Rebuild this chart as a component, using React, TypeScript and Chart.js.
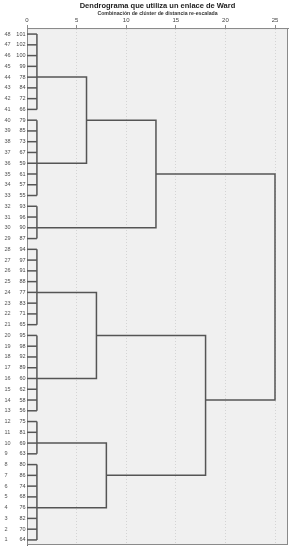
import React, { useEffect, useRef } from "react";
import { Chart, registerables } from "chart.js";

Chart.register(...registerables);

// Case labels for rows 1..48 (row 1 at bottom)
const caseLabels = [
  "64", "70", "82", "76", "68", "74", "86", "80",
  "63", "69", "81", "75",
  "56", "58", "62", "60", "89", "92", "98", "95",
  "65", "71", "83", "77", "88", "91", "97", "94",
  "87", "90", "96", "93",
  "55", "57", "61", "59", "67", "73", "85", "79",
  "66", "72", "84", "78", "99", "100", "102", "101",
];

const xTickValues = [0, 5, 10, 15, 20, 25];

// Leaf groups (joined at a small re-scaled distance)
const groupNames = ["A", "B", "C", "D", "E", "F", "G"];
const groupFromRow = [41, 33, 29, 21, 13, 9, 1];
const groupToRow = [48, 40, 32, 28, 20, 12, 8];
const groupExitRow = [44, 36, 30, 24, 16, 10, 4];
const groupJoinDistance = [1, 1, 1, 1, 1, 1, 1];

// Merges between clusters
const mergeNames = ["AB", "ABC", "DE", "FG", "DEFG", "ALL"];
const mergeLeft = ["A", "AB", "D", "F", "DE", "ABC"];
const mergeRight = ["B", "C", "E", "G", "FG", "DEFG"];
const mergeDistance = [6, 13, 7, 8, 18, 25];
const mergeExitRow = [40, 35, 20, 7, 14, 0];

const LINE = "#555555";
const FONT = "'Liberation Sans', Arial, sans-serif";

export default function App() {
  const ref = useRef<HTMLCanvasElement>(null);

  useEffect(() => {
    document.body.style.margin = "0";
    const nodes: Record<string, { x: number; y: number }> = {};
    const datasets: any[] = [];
    const seg = (pts: { x: number; y: number }[]) => ({
      data: pts,
      showLine: true,
      borderColor: LINE,
      borderWidth: 1.5,
      pointRadius: 0,
      pointHoverRadius: 0,
      fill: false,
      tension: 0,
    });

    groupNames.forEach((name, i) => {
      const d = groupJoinDistance[i];
      for (let r = groupFromRow[i]; r <= groupToRow[i]; r++) {
        datasets.push(seg([{ x: 0, y: r }, { x: d, y: r }]));
      }
      datasets.push(seg([{ x: d, y: groupFromRow[i] }, { x: d, y: groupToRow[i] }]));
      nodes[name] = { x: d, y: groupExitRow[i] };
    });

    mergeNames.forEach((name, i) => {
      const a = nodes[mergeLeft[i]];
      const b = nodes[mergeRight[i]];
      const h = mergeDistance[i];
      datasets.push(
        seg([
          { x: a.x, y: a.y },
          { x: h, y: a.y },
          { x: h, y: b.y },
          { x: b.x, y: b.y },
        ])
      );
      nodes[name] = { x: h, y: mergeExitRow[i] };
    });

    const bgPlugin = {
      id: "plotBg",
      beforeDraw(chart: any) {
        const { ctx, chartArea: a } = chart;
        ctx.save();
        ctx.fillStyle = "#f0f0f0";
        ctx.fillRect(a.left, a.top, a.right - a.left, a.bottom - a.top);
        ctx.restore();
      },
      beforeDatasetsDraw(chart: any) {
        const { ctx, chartArea: a } = chart;
        ctx.save();
        ctx.strokeStyle = "#8a8a8a";
        ctx.lineWidth = 1;
        ctx.strokeRect(a.left + 0.5, a.top + 0.5, a.right - a.left - 1, a.bottom - a.top - 1);
        ctx.restore();
      },
      afterDraw(chart: any) {
        // row position numbers, placed with the y scale
        const ys = chart.scales.y;
        const ctx = chart.ctx;
        ctx.save();
        ctx.fillStyle = "#555";
        ctx.font = `5.5px ${FONT}`;
        ctx.textAlign = "left";
        ctx.textBaseline = "middle";
        caseLabels.forEach((_, i) => {
          ctx.fillText(String(i + 1), 4.5, ys.getPixelForValue(i + 1));
        });
        ctx.restore();
      },
    };

    const rowTicks = caseLabels.map((_, i) => ({ value: i + 1 }));

    const chart = new Chart(ref.current!, {
      type: "scatter",
      data: { datasets },
      plugins: [bgPlugin],
      options: {
        animation: false,
        responsive: false,
        events: [],
        layout: { padding: { left: 13, right: 5, top: 0, bottom: 5 } },
        plugins: {
          legend: { display: false },
          tooltip: { enabled: false },
          title: {
            display: true,
            fullSize: false,
            text: "Dendrograma que utiliza un enlace de Ward",
            color: "#222",
            font: { family: FONT, size: 7.5, weight: "bold" },
            padding: { top: 1, bottom: 0 },
          },
          subtitle: {
            display: true,
            fullSize: false,
            text: "Combinación de clúster de distancia re-escalada",
            color: "#333",
            font: { family: FONT, size: 5.2, weight: "bold" },
            padding: { top: 0, bottom: 0 },
          },
        },
        scales: {
          x: {
            type: "linear",
            position: "top",
            min: 0,
            max: 26.31,
            afterBuildTicks(scale: any) {
              scale.ticks = xTickValues.map((v) => ({ value: v }));
            },
            afterFit(scale: any) {
              scale.height = 11.8;
            },
            ticks: {
              color: "#444",
              font: { family: FONT, size: 6 },
              padding: 1,
              maxRotation: 0,
              autoSkip: false,
            },
            grid: {
              color: "#d4d4d4",
              tickColor: "#8a8a8a",
              tickLength: 3,
              lineWidth: 1,
            },
            border: { color: "#8a8a8a", dash: [1, 2], display: true },
          },
          y: {
            type: "linear",
            position: "left",
            min: 0.53,
            max: 48.56,
            afterBuildTicks(scale: any) {
              scale.ticks = rowTicks.map((t) => ({ ...t }));
            },
            afterFit(scale: any) {
              scale.width = 14;
            },
            ticks: {
              color: "#444",
              font: { family: FONT, size: 5.5 },
              padding: 1.5,
              autoSkip: false,
              callback: (v: any) => caseLabels[Number(v) - 1] ?? "",
            },
            grid: {
              drawOnChartArea: false,
              drawTicks: false,
            },
            border: { color: "#6a6a6a", display: true },
          },
        },
      } as any,
    });

    return () => chart.destroy();
  }, []);

  return <canvas ref={ref} width={293} height={550} style={{ display: "block" }} />;
}
